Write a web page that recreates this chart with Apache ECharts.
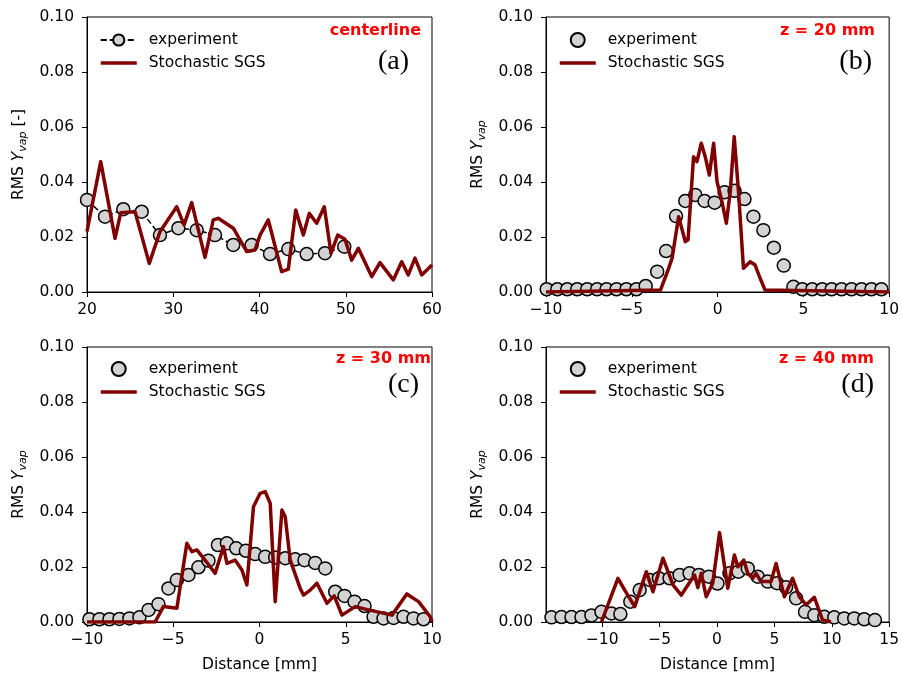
<!DOCTYPE html>
<html>
<head>
<meta charset="utf-8">
<script src="https://cdn.jsdelivr.net/npm/echarts@6/dist/echarts.min.js"></script>
<style>
html,body{margin:0;padding:0;background:#fff;}
#chart{width:902px;height:679px;}
</style>
</head>
<body>
<div id="chart"></div>
<script>
// ---------- data ----------
// (a) centerline
var aExpX = [20, 22.09, 24.21, 26.34, 28.46, 30.59, 32.72, 34.84, 36.96, 39.09, 41.22, 43.34, 45.47, 47.59, 49.83];
var aExpY = [0.0335, 0.0274, 0.0301, 0.0292, 0.0207, 0.0232, 0.0225, 0.0207, 0.0171, 0.0171, 0.0138, 0.0156, 0.0138, 0.0141, 0.0165];
var aSgsX = [20, 21.59, 23.25, 23.91, 25.57, 27.22, 28.46, 30.4, 31.25, 32.14, 33.68, 34.64, 35.22, 36.96, 38.52, 39.48, 40.06, 41.02, 42.57, 43.34, 44.2, 45.08, 45.77, 46.63, 47.51, 48.29, 49.07, 49.91, 50.69, 51.46, 53.01, 53.97, 55.51, 56.49, 57.25, 58.03, 58.81, 60];
var aSgsY = [0.022, 0.0474, 0.0195, 0.0288, 0.0292, 0.0104, 0.0219, 0.031, 0.0244, 0.0325, 0.0126, 0.0262, 0.0268, 0.0232, 0.0147, 0.0153, 0.0207, 0.0262, 0.0074, 0.0083, 0.0298, 0.0207, 0.0286, 0.025, 0.031, 0.0141, 0.0207, 0.0192, 0.0116, 0.0159, 0.0056, 0.0107, 0.0044, 0.011, 0.0062, 0.0123, 0.0062, 0.0098];

// (b) z = 20 mm
var bExpX = [-9.96, -9.34, -8.76, -8.18, -7.60, -7.02, -6.47, -5.89, -5.31, -4.73, -4.19, -3.52, -3.00, -2.42, -1.88, -1.30, -0.76, -0.17, 0.41, 0.99, 1.57, 2.09, 2.67, 3.28, 3.86, 4.42, 4.94, 5.52, 6.10, 6.65, 7.23, 7.81, 8.39, 8.97, 9.55];
var bExpY = [0.001, 0.001, 0.001, 0.001, 0.001, 0.001, 0.001, 0.001, 0.001, 0.001, 0.0022, 0.0074, 0.0149, 0.0276, 0.0331, 0.0353, 0.0331, 0.0325, 0.0363, 0.0368, 0.0338, 0.0274, 0.0225, 0.0161, 0.0096, 0.0019, 0.001, 0.001, 0.001, 0.001, 0.001, 0.001, 0.001, 0.001, 0.001];
var bSgsX = [-10, -3.33, -2.85, -2.65, -2.27, -1.88, -1.72, -1.40, -1.20, -0.95, -0.72, -0.48, -0.23, -0.03, 0.26, 0.51, 0.74, 0.97, 1.22, 1.51, 1.90, 2.19, 2.48, 2.77, 10];
var bSgsY = [0, 0.0007, 0.0086, 0.0123, 0.0274, 0.0183, 0.0190, 0.0492, 0.0474, 0.0541, 0.0492, 0.0425, 0.0541, 0.0401, 0.0328, 0.025, 0.0365, 0.0565, 0.0365, 0.0086, 0.011, 0.0098, 0.005, 0.0007, 0];

// (c) z = 30 mm
var cExpX = [-9.86, -9.28, -8.70, -8.12, -7.54, -6.96, -6.43, -5.86, -5.28, -4.79, -4.12, -3.54, -2.96, -2.41, -1.89, -1.35, -0.79, -0.25, 0.33, 0.91, 1.49, 2.07, 2.61, 3.23, 3.81, 4.39, 4.93, 5.51, 6.09, 6.61, 7.19, 7.77, 8.35, 8.93, 9.51, 10.07];
var cExpY = [0.001, 0.001, 0.001, 0.0011, 0.0013, 0.0017, 0.0044, 0.0065, 0.0122, 0.0153, 0.0171, 0.0199, 0.0223, 0.028, 0.0286, 0.0268, 0.0259, 0.0247, 0.0237, 0.0235, 0.0232, 0.0228, 0.0225, 0.0215, 0.0195, 0.011, 0.0095, 0.0074, 0.0058, 0.0019, 0.0013, 0.0015, 0.0019, 0.0013, 0.001, 0.001];
var cSgsX = [-10, -6.05, -5.57, -4.79, -4.21, -3.92, -3.63, -3.25, -2.97, -2.57, -2.09, -1.89, -1.41, -1.02, -0.73, -0.35, 0.04, 0.33, 0.62, 0.91, 1.30, 1.49, 1.78, 2.36, 2.55, 2.94, 3.33, 3.91, 4.33, 4.78, 5.55, 6.32, 7.68, 8.54, 9.22, 9.90, 10];
var cSgsY = [0, 0, 0.0056, 0.005, 0.0286, 0.0256, 0.0262, 0.0232, 0.021, 0.0177, 0.0274, 0.0213, 0.0225, 0.0189, 0.0135, 0.0419, 0.0468, 0.0474, 0.0432, 0.0074, 0.0407, 0.0383, 0.0225, 0.0122, 0.0098, 0.0116, 0.0141, 0.0068, 0.0095, 0.0025, 0.0056, 0.0044, 0.0025, 0.0102, 0.0074, 0.0019, 0];

// (d) z = 40 mm
var dExpX = [-14.42, -13.55, -12.68, -11.81, -10.94, -10.07, -9.20, -8.42, -7.55, -6.74, -5.87, -5.06, -4.13, -3.26, -2.39, -1.58, -0.71, 0.04, 1.09, 1.87, 2.68, 3.55, 4.42, 5.23, 6.02, 6.89, 7.67, 8.48, 9.35, 10.22, 11.09, 11.96, 12.83, 13.76];
var dExpY = [0.0017, 0.0018, 0.0018, 0.0018, 0.0024, 0.0037, 0.0031, 0.0029, 0.0074, 0.0116, 0.0153, 0.0159, 0.0159, 0.0171, 0.0177, 0.0171, 0.0165, 0.0140, 0.0177, 0.0183, 0.0195, 0.0165, 0.0147, 0.0141, 0.0126, 0.0086, 0.0037, 0.0025, 0.0019, 0.0017, 0.0013, 0.0013, 0.001, 0.0007];
var dSgsX = [-10.07, -8.63, -8.04, -7.17, -6.16, -5.58, -4.71, -3.84, -3.11, -1.96, -1.67, -1.37, -0.94, -0.37, 0.22, 0.94, 1.52, 1.81, 2.33, 2.68, 3.11, 3.41, 3.84, 4.71, 5.15, 5.87, 6.59, 7.17, 7.76, 8.48, 9.20, 9.93];
var dSgsY = [0, 0.0159, 0.0116, 0.0056, 0.0183, 0.011, 0.0232, 0.0135, 0.0098, 0.0171, 0.0125, 0.0177, 0.0092, 0.0141, 0.0325, 0.0123, 0.0244, 0.0201, 0.0225, 0.0177, 0.0159, 0.0177, 0.0147, 0.0147, 0.0213, 0.0092, 0.0159, 0.0092, 0.0062, 0.009, 0.0007, 0];

// axis ticks
var yTicks = [0, 0.02, 0.04, 0.06, 0.08, 0.10];
var xTicksA = [20, 30, 40, 50, 60];
var xTicksBC = [-10, -5, 0, 5, 10];
var xTicksD = [-10, -5, 0, 5, 10, 15];

// texts
var panelTags = ['centerline', 'z = 20 mm', 'z = 30 mm', 'z = 40 mm'];
var panelLetters = ['(a)', '(b)', '(c)', '(d)'];
var expName = 'experiment';
var sgsName = 'Stochastic SGS';

// ---------- chart ----------
function zip(xs, ys) { return xs.map(function (x, i) { return [x, ys[i]]; }); }
var FONT = 'DejaVu Sans';
var TXT = '#000';
var SGS_COLOR = '#800000';

var grids = [
  { left: 87, top: 17, width: 345, height: 275 },
  { left: 546, top: 17, width: 344, height: 275 },
  { left: 87, top: 347, width: 345, height: 275 },
  { left: 546, top: 347, width: 344, height: 275 }
].map(function (g) {
  return Object.assign({ show: true, borderColor: '#000', borderWidth: 1, backgroundColor: 'transparent' }, g);
});

function minus(v) { return String(v).replace('-', '\u2212'); }

var xRanges = [[20, 60, xTicksA], [-10, 10, xTicksBC], [-10, 10, xTicksBC], [-14.9, 15, xTicksD]];
var xAxes = xRanges.map(function (r, i) {
  return {
    type: 'value', gridIndex: i, min: r[0], max: r[1],
    axisLine: { show: true, onZero: false, lineStyle: { color: '#000', width: 1 } },
    axisTick: { show: true, length: 5, lineStyle: { color: '#000', width: 1 }, customValues: r[2] },
    axisLabel: { show: true, margin: 10, fontSize: 15.5, fontFamily: FONT, color: TXT, customValues: r[2], formatter: function (v) { return minus(v); } },
    splitLine: { show: false },
    name: i >= 2 ? 'Distance [mm]' : '',
    nameLocation: 'middle', nameGap: 35,
    nameTextStyle: { fontSize: 15.5, fontFamily: FONT, color: TXT }
  };
});

var yAxes = [0, 1, 2, 3].map(function (i) {
  var nm = '{n|RMS }{i|Y}{s|vap}' + (i === 0 ? '{n| [-]}' : '');
  return {
    type: 'value', gridIndex: i, min: 0, max: 0.1, interval: 0.02,
    axisLine: { show: true, onZero: false, lineStyle: { color: '#000', width: 1 } },
    axisTick: { show: true, length: 5, lineStyle: { color: '#000', width: 1 } },
    axisLabel: { margin: 13, fontSize: 15.5, fontFamily: FONT, color: TXT, formatter: function (v) { return v.toFixed(2); } },
    splitLine: { show: false },
    name: nm, nameLocation: 'middle', nameGap: 58,
    nameTextStyle: {
      rich: {
        n: { fontSize: 15.5, fontFamily: FONT, color: TXT, lineHeight: 20, verticalAlign: 'middle' },
        i: { fontSize: 15.5, fontFamily: FONT, fontStyle: 'italic', color: TXT, lineHeight: 20, verticalAlign: 'middle' },
        s: { fontSize: 11, fontFamily: FONT, fontStyle: 'italic', color: TXT, lineHeight: 11, verticalAlign: 'bottom' }
      }
    }
  };
});

var expSets = [[aExpX, aExpY], [bExpX, bExpY], [cExpX, cExpY], [dExpX, dExpY]];
var sgsSets = [[aSgsX, aSgsY], [bSgsX, bSgsY], [cSgsX, cSgsY], [dSgsX, dSgsY]];
var series = [];
expSets.forEach(function (s, i) {
  var base = {
    name: expName + '|' + i, xAxisIndex: i, yAxisIndex: i, data: zip(s[0], s[1]),
    symbol: 'circle', symbolSize: 13,
    itemStyle: { color: '#d3d3d3', borderColor: '#000', borderWidth: 1.5, opacity: 1 },
    z: 2
  };
  if (i === 0) {
    base.type = 'line';
    base.showSymbol = true;
    base.lineStyle = { color: '#000', width: 1.5, type: [6, 3] };
  } else {
    base.type = 'scatter';
  }
  series.push(base);
});
sgsSets.forEach(function (s, i) {
  series.push({
    name: sgsName + '|' + i, type: 'line', xAxisIndex: i, yAxisIndex: i, data: zip(s[0], s[1]),
    symbol: 'none', showSymbol: false,
    lineStyle: { color: SGS_COLOR, width: 3.5, join: 'round' },
    itemStyle: { color: SGS_COLOR },
    z: 3
  });
});

var legends = [0, 1, 2, 3].map(function (i) {
  return {
    data: [
      { name: expName + '|' + i },
      { name: sgsName + '|' + i, itemStyle: { opacity: 0 }, lineStyle: { width: 3.5, color: SGS_COLOR } }
    ],
    left: [99, 558, 99, 558][i], top: [32, 32, 361, 361][i], padding: 0,
    orient: 'vertical', itemWidth: 36, itemHeight: 14, itemGap: 7,
    selectedMode: false,
    formatter: function (n) { return n.split('|')[0]; },
    textStyle: { fontSize: 15.5, fontFamily: FONT, color: TXT, padding: [0, 0, 0, 7], lineHeight: 16 }
  };
});

var tagPos = [[421, 31], [875, 31], [431, 359], [874, 359]];
var letterPos = [[409, 62], [872, 62], [419, 385], [874, 385]];
var graphics = [];
tagPos.forEach(function (p, i) {
  graphics.push({ type: 'text', x: p[0], y: p[1], z: 10,
    style: { text: panelTags[i], align: 'right', verticalAlign: 'middle', textAlign: 'right', textVerticalAlign: 'middle',
      font: 'bold 16px "DejaVu Sans"', fill: '#ff0000' } });
});
letterPos.forEach(function (p, i) {
  graphics.push({ type: 'text', x: p[0], y: p[1], z: 10,
    style: { text: panelLetters[i], align: 'right', verticalAlign: 'middle', textAlign: 'right', textVerticalAlign: 'middle',
      font: '28px "Liberation Serif"', fill: '#000' } });
});

var chart = echarts.init(document.getElementById('chart'), null, { renderer: 'canvas' });
chart.setOption({
  animation: false,
  backgroundColor: '#fff',
  grid: grids,
  xAxis: xAxes,
  yAxis: yAxes,
  legend: legends,
  series: series,
  graphic: graphics
});
</script>
</body>
</html>
